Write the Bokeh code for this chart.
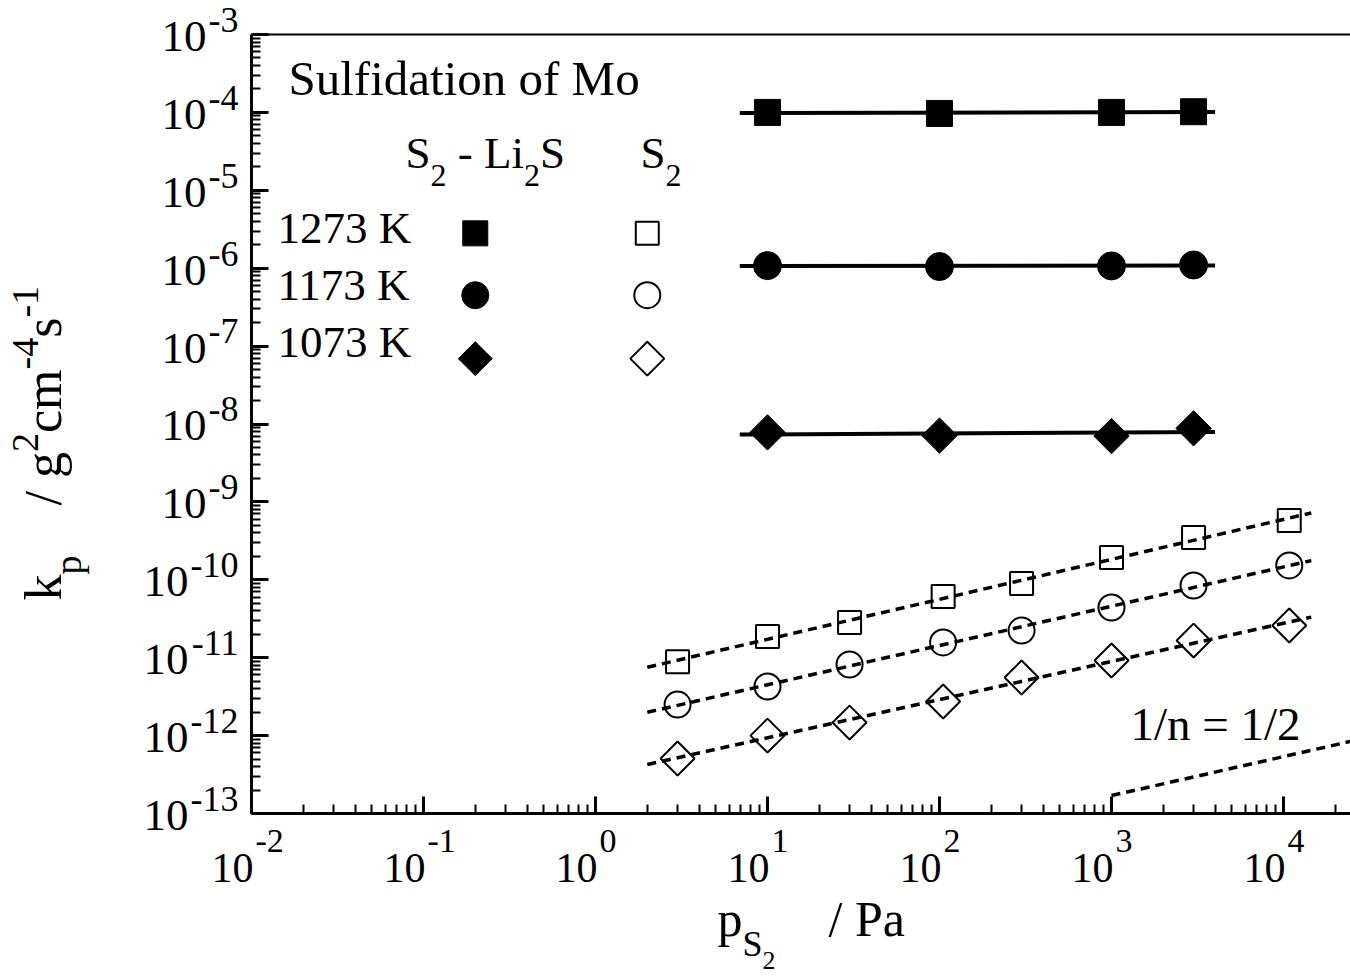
import numpy as np
from bokeh.plotting import figure
from bokeh.models import FixedTicker, LogAxis, Label, CustomJSTickFormatter
from bokeh.embed import file_html
from bokeh.resources import INLINE

# ---------------- data ----------------
p_li2s = [10, 100, 1000, 3000]                      # S2 - Li2S, p_S2 / Pa
kp_li2s_1273 = [1.00e-4, 0.97e-4, 1.00e-4, 1.02e-4]
kp_li2s_1173 = [1.08e-6, 1.05e-6, 1.07e-6, 1.10e-6]
kp_li2s_1073 = [7.8e-9, 7.1e-9, 7.0e-9, 8.8e-9]

p_s2 = [3, 10, 30, 105, 300, 1000, 3000, 10800]    # S2, p_S2 / Pa
kp_s2_1273 = [8.9e-12, 1.87e-11, 2.83e-11, 6.1e-11, 8.95e-11, 1.93e-10, 3.49e-10, 5.77e-10]
kp_s2_1173 = [2.5e-12, 4.27e-12, 8.18e-12, 1.57e-11, 2.23e-11, 4.41e-11, 8.45e-11, 1.53e-10]
kp_s2_1073 = [5.08e-13, 1.0e-12, 1.47e-12, 2.74e-12, 5.57e-12, 9.2e-12, 1.66e-11, 2.59e-11]

fit_span_li2s = [6.9, 4000]
fit_span_s2 = [2.0, 14500]
ref_p = [1000, 100000]          # 1/n = 1/2 reference line
ref_kp = [1.7e-13, 1.7e-12]

x_major = [1e-2, 1e-1, 1e0, 1e1, 1e2, 1e3, 1e4]
x_exp = ["-2", "-1", "0", "1", "2", "3", "4"]
y_major = [1e-13, 1e-12, 1e-11, 1e-10, 1e-9, 1e-8, 1e-7, 1e-6, 1e-5, 1e-4, 1e-3]
y_exp = ["-13", "-12", "-11", "-10", "-9", "-8", "-7", "-6", "-5", "-4", "-3"]
temps = ["1273 K", "1173 K", "1073 K"]

# legend key anchors (data coordinates of the key column / rows)
key_col_x = [0.2, 2.0]
key_row_y = [2.8e-6, 4.5e-7, 6.9e-8]

# ---------------- layout ----------------
W, H = 1350, 979
FL, FT, FB = 251, 34, 813          # pixel position of the axes corner / top
DX, DY = 172.0, 77.9               # pixels per decade
X0, Y0 = 1e-2, 1e-13               # axes corner in data
X_LO, X_HI = 10 ** (-2 - FL / DX), 10 ** (-2 + (W - FL) / DX)
Y_LO, Y_HI = 10 ** (-13 - (H - FB) / DY), 10 ** (-3 + FT / DY)
FONT = "Liberation Serif"
BL = 0.38                          # baseline correction (fraction of font size)

p = figure(width=W, height=H, x_axis_type="log", y_axis_type="log",
           x_range=(X_LO, X_HI), y_range=(Y_LO, Y_HI),
           output_backend="svg", toolbar_location=None,
           min_border_left=0, min_border_right=0, min_border_top=0, min_border_bottom=0)
p.grid.visible = False
p.outline_line_color = None
p.background_fill_color = "white"
p.border_fill_color = "white"

def minor_of(major):
    out = []
    for t in major[:-1]:
        out += [m * t for m in range(2, 10)]
    return out

blank = CustomJSTickFormatter(code="return ''")

def style_axis(ax, major, fixed, bounds, lw=3, tin=17, min_in=9):
    ax.ticker = FixedTicker(ticks=major, minor_ticks=minor_of(major) if major else [])
    ax.formatter = blank
    ax.major_label_text_font_size = "0px"
    ax.major_label_standoff = 0
    ax.fixed_location = fixed
    ax.bounds = bounds
    ax.axis_line_width = lw
    ax.major_tick_line_width = 3
    ax.minor_tick_line_width = 2
    ax.major_tick_in = tin
    ax.major_tick_out = 0
    ax.minor_tick_in = min_in
    ax.minor_tick_out = 0
    ax.axis_line_color = "black"
    ax.major_tick_line_color = "black"
    ax.minor_tick_line_color = "black"

style_axis(p.xaxis[0], x_major + [1e5], Y0, (X0, X_HI))
style_axis(p.yaxis[0], y_major, X0, (Y0, 1e-3))
top = LogAxis()
p.add_layout(top, "above")
style_axis(top, [], 1e-3, (X0, X_HI), lw=2, tin=0, min_in=0)

# ---------------- lines ----------------
def fit_line(px, ky, span):
    a, b = np.polyfit(np.log10(px), np.log10(ky), 1)
    xs = np.array(span, dtype=float)
    return xs, 10 ** (b + a * np.log10(xs))

for ky in (kp_li2s_1273, kp_li2s_1173, kp_li2s_1073):
    xs, ys = fit_line(p_li2s, ky, fit_span_li2s)
    p.line(xs, ys, line_color="black", line_width=4)
for ky in (kp_s2_1273, kp_s2_1173, kp_s2_1073):
    xs, ys = fit_line(p_s2, ky, fit_span_s2)
    p.line(xs, ys, line_color="black", line_width=3.5, line_dash="9 6")
p.line(ref_p, ref_kp, line_color="black", line_width=3.5, line_dash="9 6")

# ---------------- markers ----------------
filled = dict(color="black")
hollow = dict(fill_color=None, line_color="black", line_width=2)
styles = [("square", 0.0, 26, 23), ("circle", 0.0, 28, 26), ("square", np.pi / 4, 25, 24)]
for (mk, ang, sf, so), kf, ko, ky in zip(styles,
                                         (kp_li2s_1273, kp_li2s_1173, kp_li2s_1073),
                                         (kp_s2_1273, kp_s2_1173, kp_s2_1073),
                                         key_row_y):
    p.scatter(p_li2s, kf, marker=mk, angle=ang, size=sf, **filled)
    p.scatter(p_s2, ko, marker=mk, angle=ang, size=so, **hollow)
    # legend keys
    p.scatter([key_col_x[0]], [ky], marker=mk, angle=ang, size=sf - 1, **filled)
    p.scatter([key_col_x[1]], [ky], marker=mk, angle=ang, size=so, **hollow)

# ---------------- texts ----------------
TW = {'0': .5, '1': .5, '2': .5, '3': .5, '4': .5, '5': .5, '6': .5, '7': .5, '8': .5, '9': .5,
      '-': .333, ' ': .25, '/': .278, 'k': .5, 'p': .5, 'g': .5, 'c': .444, 'm': .778, 's': .389,
      'S': .556, 'L': .611, 'i': .278, 'P': .556, 'a': .444, 'K': .722, 'n': .5, '=': .564}

def tw(s, size):
    return sum(TW.get(c, .5) for c in s) * size

def put(text, dx, dy, size, x=X0, y=Y0, align="left", angle=0.0):
    if angle:
        dx = dx - BL * size
    else:
        dy = dy - BL * size
    p.add_layout(Label(x=x, y=y, x_offset=dx, y_offset=-dy, text=text,
                       text_font=FONT, text_font_size=f"{size}px",
                       text_align=align, text_baseline="alphabetic",
                       angle=angle, text_color="black"))

def at(text, cx, cy, size, align="left", angle=0.0):
    put(text, cx - FL, cy - FB, size, align=align, angle=angle)

def run(parts, cx, cy, rotated=False):
    pos = 0.0
    for text, size, shift in parts:
        if text.strip():
            if rotated:
                at(text, cx + shift, cy - pos, size, angle=np.pi / 2)
            else:
                at(text, cx + pos, cy + shift, size)
        pos += tw(text, size)

# tick labels
for t, e in zip(x_major, x_exp):
    put("10", 2, 70, 42, x=t, align="right")
    put(e, 4, 40, 34, x=t, align="left")
for t, e in zip(y_major, y_exp):
    put(e, -13, -1, 36, y=t, align="right")
    put("10", -13 - tw(e, 36) - 2, 19, 45, y=t, align="right")

# axis titles
run([("p", 50, 0), ("S", 36, 20)], 717, 937)
at("2", 717 + tw("p", 50) + tw("S", 36), 937 + 33, 26)
at("/ Pa", 828, 937, 50)

run([("k", 52, 0), ("p", 38, 19)], 63, 600, rotated=True)
run([("/", 52, 0), (" ", 52, 0), ("g", 52, 0), ("2", 38, -24), ("cm", 52, 0), ("-4", 38, -24),
     ("s", 52, 0), ("-1", 38, -24)], 63, 505, rotated=True)

# in-plot annotations
at("Sulfidation of Mo", 288, 97, 49)
run([("S", 45, 0), ("2", 32, 17), (" ", 45, 0), ("-", 45, 0), (" ", 45, 0),
     ("Li", 45, 0), ("2", 32, 17), ("S", 45, 0)], 405, 170)
run([("S", 45, 0), ("2", 32, 17)], 640, 170)
for i, t in enumerate(temps):
    at(t, 277, 245 + i * 57, 45)
at("1/n = 1/2", 1130, 741, 47)

open("out.html", "w").write(file_html(p, INLINE))
